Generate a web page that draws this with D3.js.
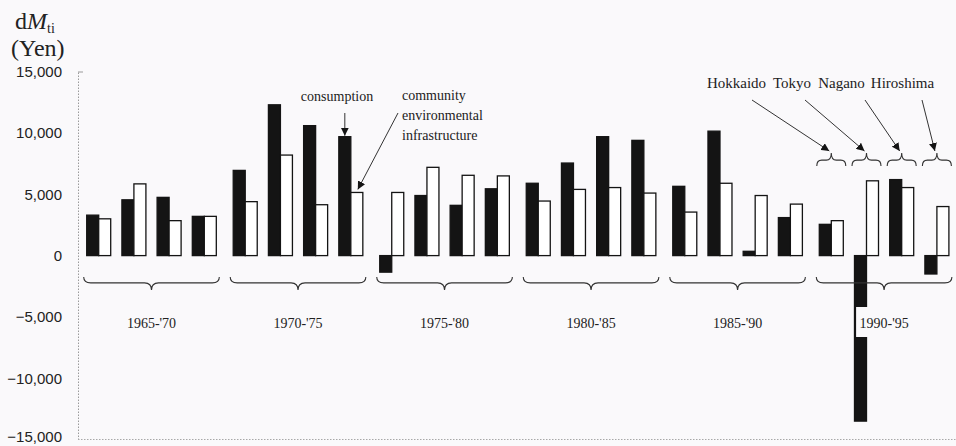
<!DOCTYPE html>
<html>
<head>
<meta charset="utf-8">
<script src="https://cdn.jsdelivr.net/npm/d3@7"></script>
<style>
  html, body { margin: 0; padding: 0; background: #faf9fb; }
  svg { display: block; }
</style>
</head>
<body>
<svg id="chart" width="956" height="446"></svg>
<script>
// Periods, prefectures and the two components of dM_ti (Yen)
const periods = ["1965-'70", "1970-'75", "1975-'80", "1980-'85", "1985-'90", "1990-'95"];
const prefectures = ["Hokkaido", "Tokyo", "Nagano", "Hiroshima"];
const series = ["consumption", "infrastructure"];

// One value per (period, prefecture), in period order, prefecture order
const consumption = [
  3300, 4550, 4750, 3200,
  6950, 12300, 10600, 9700,
  -1350, 4900, 4100, 5450,
  5900, 7550, 9700, 9400,
  5650, 10150, 350, 3100,
  2550, -13500, 6200, -1500
];
const infrastructure = [
  3000, 5850, 2850, 3200,
  4400, 8200, 4150, 5150,
  5150, 7200, 6550, 6500,
  4450, 5400, 5550, 5100,
  3550, 5900, 4900, 4200,
  2850, 6100, 5550, 4000
];

const yTicks = [15000, 10000, 5000, 0, -5000, -10000, -15000];

const rows = [];
periods.forEach((p, i) => {
  prefectures.forEach((pr, j) => {
    const k = i * prefectures.length + j;
    rows.push({ period: p, pref: pr, consumption: consumption[k], infrastructure: infrastructure[k] });
  });
});

const svg = d3.select("#chart");
const BG = "#faf9fb";
const INK = "#141414";
const serif = "'Liberation Serif', 'Times New Roman', serif";
const sans = "'Liberation Sans', Arial, sans-serif";

const y = d3.scaleLinear().domain([-15000, 15000]).range([439.5, 71.7]);

const xPeriod = d3.scaleBand().domain(periods).range([86.7, 948.9]).paddingInner(0.1154).paddingOuter(0);
const xPref = d3.scaleBand().domain(prefectures).range([0, xPeriod.bandwidth()]).paddingInner(0.318).paddingOuter(0);
const xSeries = d3.scaleBand().domain(series).range([0, xPref.bandwidth()]).padding(0);

const pairX = d => xPeriod(d.period) + xPref(d.pref);

// Arrowhead marker
svg.append("defs").append("marker")
  .attr("id", "arrow")
  .attr("viewBox", "0 0 10 10")
  .attr("refX", 10).attr("refY", 5)
  .attr("markerWidth", 8).attr("markerHeight", 8)
  .attr("markerUnits", "userSpaceOnUse")
  .attr("orient", "auto")
  .append("path").attr("d", "M0,0 L10,5 L0,10 Z").attr("fill", INK);

// Y axis
const axis = d3.axisLeft(y).tickValues(yTicks).tickSizeInner(0).tickSizeOuter(0).tickPadding(16)
  .tickFormat(d => d3.format(",")(d).replace("-", "\u2212"));
const gAxis = svg.append("g").attr("transform", "translate(78,0)").call(axis);
gAxis.select(".domain").attr("stroke", "#9a9a9a").attr("stroke-width", 1).attr("stroke-dasharray", "1.5,1.5");
gAxis.selectAll("text").attr("font-family", sans).attr("font-size", 15).attr("fill", "#222");
// keep the lowest label inside the frame
gAxis.selectAll(".tick").filter(d => d === -15000).select("text").attr("dy", "0.12em");
svg.append("path").attr("d", "M78,72 H83").attr("stroke", "#9a9a9a").attr("fill", "none");

// Bottom dotted rule
svg.append("line")
  .attr("x1", 78).attr("x2", 956)
  .attr("y1", y(-15000)).attr("y2", y(-15000))
  .attr("stroke", "#a8a8a8").attr("stroke-width", 1).attr("stroke-dasharray", "1.5,1.5");

// Axis title: dM_ti (Yen)
const title = svg.append("text").attr("x", 15).attr("y", 29).attr("font-family", serif).attr("font-size", 24).attr("fill", "#222");
title.append("tspan").text("d");
title.append("tspan").attr("font-style", "italic").text("M");
title.append("tspan").attr("font-size", 14).attr("dy", 4).text("ti");
svg.append("text").attr("x", 11).attr("y", 56).attr("font-family", serif).attr("font-size", 24).attr("fill", "#222").text("(Yen)");

// Bars
const barG = svg.append("g");
series.forEach(s => {
  barG.selectAll("rect." + s).data(rows).join("rect")
    .attr("class", s)
    .attr("x", d => pairX(d) + xSeries(s))
    .attr("width", xSeries.bandwidth())
    .attr("y", d => y(Math.max(0, d[s])))
    .attr("height", d => Math.abs(y(d[s]) - y(0)))
    .attr("fill", s === "consumption" ? INK : "#ffffff")
    .attr("stroke", INK)
    .attr("stroke-width", 1.3);
});

// Curly brace path between x1 and x2; h > 0 puts the tip below, h < 0 above
function brace(x1, x2, y0, h, r) {
  const m = (x1 + x2) / 2, yl = y0 + h * 0.45, yt = y0 + h;
  return `M${x1},${y0} Q${x1},${yl} ${x1 + r},${yl} L${m - r},${yl} Q${m},${yl} ${m},${yt}` +
         ` Q${m},${yl} ${m + r},${yl} L${x2 - r},${yl} Q${x2},${yl} ${x2},${y0}`;
}

// Period braces and labels
const gPeriod = svg.append("g");
periods.forEach(p => {
  const x1 = xPeriod(p) - 3, x2 = xPeriod(p) + xPeriod.bandwidth() + 3;
  gPeriod.append("path").attr("d", brace(x1, x2, 277, 13, 7))
    .attr("fill", "none").attr("stroke", "#333").attr("stroke-width", 1.1);
  const cx = xPeriod(p) + xPeriod.bandwidth() / 2;
  gPeriod.append("rect").attr("x", cx - 28).attr("y", 307).attr("width", 56).attr("height", 30).attr("fill", BG);
  gPeriod.append("text").attr("x", cx).attr("y", 328).attr("text-anchor", "middle")
    .attr("font-family", serif).attr("font-size", 14).attr("fill", "#222").text(p);
});

// Small braces over each prefecture pair in the last period
const last = rows.filter(d => d.period === periods[periods.length - 1]);
last.forEach(d => {
  const x1 = pairX(d) - 2.5, x2 = pairX(d) + xPref.bandwidth() + 2.5;
  svg.append("path").attr("d", brace(x1, x2, 166, -13, 5))
    .attr("fill", "none").attr("stroke", "#333").attr("stroke-width", 1.1);
});

// Prefecture legend with arrows to the braces
const prefLabels = [
  { name: "Hokkaido", x: 736.5, sx: 752 },
  { name: "Tokyo", x: 792, sx: 805 },
  { name: "Nagano", x: 841.5, sx: 865 },
  { name: "Hiroshima", x: 902.5, sx: 922 }
];
prefLabels.forEach(l => {
  svg.append("text").attr("x", l.x).attr("y", 88).attr("text-anchor", "middle")
    .attr("font-family", serif).attr("font-size", 15).attr("fill", "#222").text(l.name);
  const d = last.find(r => r.pref === l.name);
  const tx = pairX(d) + xPref.bandwidth() / 2 - 2;
  svg.append("line").attr("x1", l.sx).attr("y1", 100).attr("x2", tx).attr("y2", 151)
    .attr("stroke", "#333").attr("stroke-width", 1).attr("marker-end", "url(#arrow)");
});

// Series annotations
const ref = rows[7]; // 1970-'75, Hiroshima
const cxBlack = pairX(ref) + xSeries("consumption") + xSeries.bandwidth() / 2;
svg.append("text").attr("x", 337).attr("y", 101).attr("text-anchor", "middle")
  .attr("font-family", serif).attr("font-size", 14).attr("fill", "#222").text("consumption");
svg.append("line").attr("x1", cxBlack).attr("y1", 113).attr("x2", cxBlack).attr("y2", y(ref.consumption) - 1)
  .attr("stroke", "#333").attr("stroke-width", 1).attr("marker-end", "url(#arrow)");

["community", "environmental", "infrastructure"].forEach((t, i) => {
  svg.append("text").attr("x", 402).attr("y", 100 + i * 20)
    .attr("font-family", serif).attr("font-size", 14).attr("fill", "#222").text(t);
});
const wx = pairX(ref) + xSeries("infrastructure") + 7;
svg.append("line").attr("x1", 398).attr("y1", 113).attr("x2", wx).attr("y2", y(ref.infrastructure) - 3)
  .attr("stroke", "#333").attr("stroke-width", 1).attr("marker-end", "url(#arrow)");
</script>
</body>
</html>
